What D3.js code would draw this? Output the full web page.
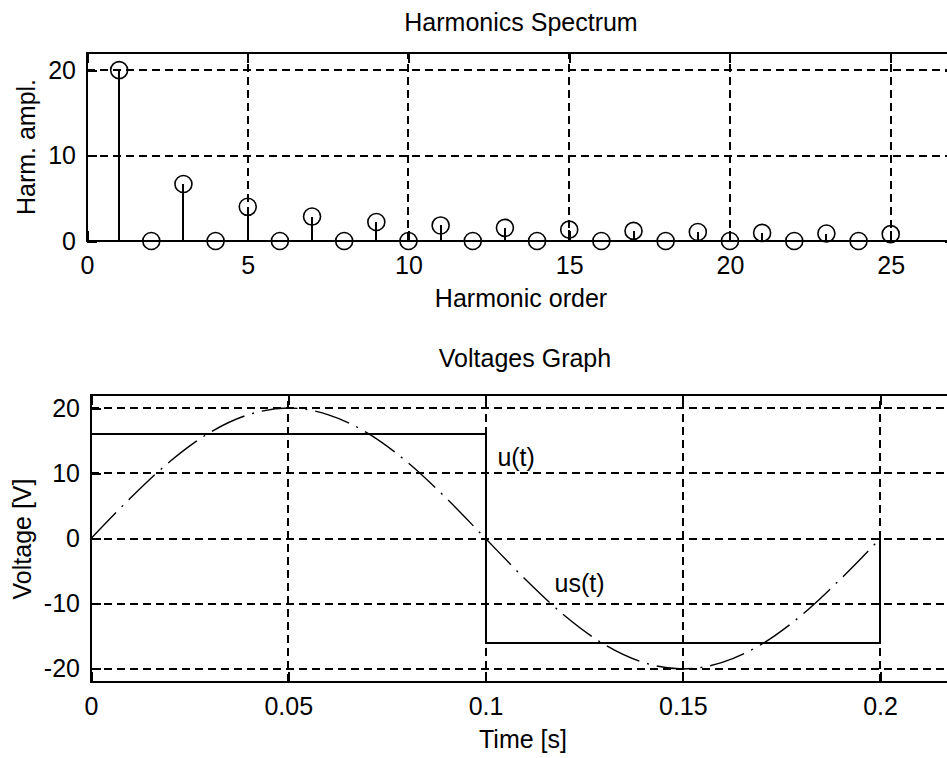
<!DOCTYPE html>
<html>
<head>
<meta charset="utf-8">
<script src="https://cdn.jsdelivr.net/npm/d3@7"></script>
<style>
  body { margin: 0; background: #fff; overflow: hidden; }
  text { font-family: "Liberation Sans", Arial, sans-serif; font-size: 25px; fill: #000; }
</style>
</head>
<body>
<div id="chart"></div>
<script>
// harmonics spectrum
var harmOrder = [1,2,3,4,5,6,7,8,9,10,11,12,13,14,15,16,17,18,19,20,21,22,23,24,25]
var harmAmpl  = [20,0,6.67,0,4,0,2.86,0,2.22,0,1.82,0,1.54,0,1.33,0,1.18,0,1.05,0,0.95,0,0.87,0,0.8]
var harmXTicks = [0,5,10,15,20,25]
var harmYTicks = [0,10,20]

// voltages graph
var sineTime = [0,0.01,0.02,0.03,0.04,0.05,0.06,0.07,0.08,0.09,0.1,0.11,0.12,0.13,0.14,0.15,0.16,0.17,0.18,0.19,0.2]
var sineVolt = [0,6.2,11.8,16.2,19.0,20.0,19.0,16.2,11.8,6.2,0,-6.2,-11.8,-16.2,-19.0,-20.0,-19.0,-16.2,-11.8,-6.2,0]
var rectTime = [0,0,0.1,0.1,0.2,0.2]
var rectVolt = [0,16,16,-16,-16,0]
var curveLabels = [
  { text: 'u(t)', t: 0.103, v: 12 },
  { text: 'us(t)', t: 0.1175, v: -7.2 }
]
var timeTicks = [0,0.05,0.1,0.15,0.2]
var voltTicks = [-20,-10,0,10,20]

var chart_width  = 947;
var chart_height = 758;
var tick_len = 10;

var svg = d3.select('#chart')
          .append('svg')
          .attr('width', chart_width)
          .attr('height', chart_height);

function drawFrame(g, x, y, xTicks, yTicks) {
  var x0 = x.range()[0], x1 = x.range()[1];
  var y0 = y.range()[0], y1 = y.range()[1];

  // dashed grid
  g.selectAll('.vgrid')
   .data(xTicks.filter(function(d){ return d !== x.domain()[0]; }))
   .enter()
   .append('line')
   .attr('x1', function(d){ return x(d); })
   .attr('x2', function(d){ return x(d); })
   .attr('y1', y0)
   .attr('y2', y1)
   .attr('stroke', '#000')
   .attr('stroke-width', 2)
   .attr('shape-rendering', 'crispEdges')
   .attr('stroke-dasharray', '8,5');

  g.selectAll('.hgrid')
   .data(yTicks.filter(function(d){ return d !== y.domain()[0]; }))
   .enter()
   .append('line')
   .attr('x1', x0)
   .attr('x2', x1)
   .attr('y1', function(d){ return y(d); })
   .attr('y2', function(d){ return y(d); })
   .attr('stroke', '#000')
   .attr('stroke-width', 2)
   .attr('shape-rendering', 'crispEdges')
   .attr('stroke-dasharray', '8,5');

  // inside ticks on all four sides
  var bottom = g.append('g')
    .attr('transform', 'translate(0,' + y0 + ')')
    .call(d3.axisBottom(x).tickValues(xTicks).tickFormat(function(d){ return d; })
      .tickSizeInner(-tick_len).tickSizeOuter(0).tickPadding(15));
  var top = g.append('g')
    .attr('transform', 'translate(0,' + y1 + ')')
    .call(d3.axisTop(x).tickValues(xTicks).tickFormat('')
      .tickSizeInner(-tick_len).tickSizeOuter(0));
  var left = g.append('g')
    .attr('transform', 'translate(' + x0 + ',0)')
    .call(d3.axisLeft(y).tickValues(yTicks).tickFormat(function(d){ return d; })
      .tickSizeInner(-tick_len).tickSizeOuter(0).tickPadding(11));
  var right = g.append('g')
    .attr('transform', 'translate(' + x1 + ',0)')
    .call(d3.axisRight(y).tickValues(yTicks).tickFormat('')
      .tickSizeInner(-tick_len).tickSizeOuter(0));

  [bottom, top, left, right].forEach(function(a){
    a.attr('font-family', null).attr('font-size', null);
    a.select('.domain').remove();
    a.selectAll('line').attr('stroke', '#000').attr('stroke-width', 2)
     .attr('shape-rendering', 'crispEdges');
    a.selectAll('text').attr('fill', '#000');
  });

  g.append('rect')
   .attr('x', x0)
   .attr('y', y1)
   .attr('width', x1 - x0)
   .attr('height', y0 - y1)
   .attr('fill', 'none')
   .attr('stroke', '#000')
   .attr('stroke-width', 2)
   .attr('shape-rendering', 'crispEdges');
}

// ---------- top: Harmonics Spectrum ----------
var hx = d3.scaleLinear().domain([0, 27]).range([87, 955]);
var hy = d3.scaleLinear().domain([0, 22]).range([241, 53]);
var top_g = svg.append('g');
drawFrame(top_g, hx, hy, harmXTicks, harmYTicks);

var harm = harmOrder.map(function(d, i){ return { n: d, a: harmAmpl[i] }; });

top_g.selectAll('.stem')
 .data(harm)
 .enter()
 .append('line')
 .attr('x1', function(d){ return hx(d.n); })
 .attr('x2', function(d){ return hx(d.n); })
 .attr('y1', hy(0))
 .attr('y2', function(d){ return hy(d.a); })
 .attr('stroke', '#000')
 .attr('stroke-width', 2)
 .attr('shape-rendering', 'crispEdges');

top_g.selectAll('.marker')
 .data(harm)
 .enter()
 .append('circle')
 .attr('cx', function(d){ return hx(d.n); })
 .attr('cy', function(d){ return hy(d.a); })
 .attr('r', 8.5)
 .attr('fill', 'none')
 .attr('stroke', '#000')
 .attr('stroke-width', 1.6);

top_g.append('text')
 .attr('x', 521).attr('y', 31)
 .attr('text-anchor', 'middle')
 .text('Harmonics Spectrum');
top_g.append('text')
 .attr('x', 521).attr('y', 307)
 .attr('text-anchor', 'middle')
 .text('Harmonic order');
top_g.append('text')
 .attr('transform', 'translate(35,147) rotate(-90)')
 .attr('text-anchor', 'middle')
 .text('Harm. ampl.');

// ---------- bottom: Voltages Graph ----------
var vx = d3.scaleLinear().domain([0, 0.22]).range([91, 959]);
var vy = d3.scaleLinear().domain([-22, 22]).range([682, 395]);
var bot_g = svg.append('g');
drawFrame(bot_g, vx, vy, timeTicks, voltTicks);

var sineLine = d3.line()
  .x(function(d){ return vx(d[0]); })
  .y(function(d){ return vy(d[1]); })
  .curve(d3.curveMonotoneX);

bot_g.append('path')
 .datum(sineTime.map(function(t, i){ return [t, sineVolt[i]]; }))
 .attr('d', sineLine)
 .attr('fill', 'none')
 .attr('stroke', '#000')
 .attr('stroke-width', 1.4)
 .attr('stroke-dasharray', '36,8,2,8');

var rectLine = d3.line()
  .x(function(d){ return vx(d[0]); })
  .y(function(d){ return vy(d[1]); });

bot_g.append('path')
 .datum(rectTime.map(function(t, i){ return [t, rectVolt[i]]; }))
 .attr('d', rectLine)
 .attr('fill', 'none')
 .attr('stroke', '#000')
 .attr('stroke-width', 2)
 .attr('shape-rendering', 'crispEdges');

bot_g.selectAll('.clabel')
 .data(curveLabels)
 .enter()
 .append('text')
 .attr('x', function(d){ return vx(d.t); })
 .attr('y', function(d){ return vy(d.v); })
 .attr('dy', '0.25em')
 .text(function(d){ return d.text; });

bot_g.append('text')
 .attr('x', 525).attr('y', 367)
 .attr('text-anchor', 'middle')
 .text('Voltages Graph');
bot_g.append('text')
 .attr('x', 523).attr('y', 748)
 .attr('text-anchor', 'middle')
 .text('Time [s]');
bot_g.append('text')
 .attr('transform', 'translate(31,539) rotate(-90)')
 .attr('text-anchor', 'middle')
 .text('Voltage [V]');
</script>
</body>
</html>
